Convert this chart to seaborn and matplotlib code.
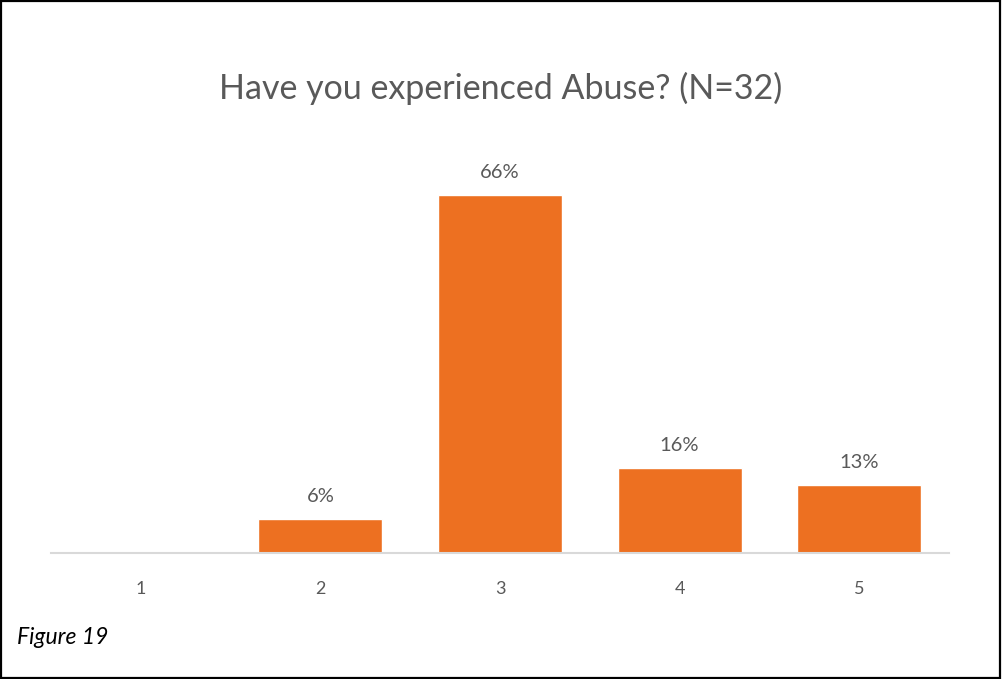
import matplotlib
matplotlib.use("Agg")
import matplotlib.pyplot as plt
import seaborn as sns
import pandas as pd
from matplotlib.patches import Rectangle

# Survey responses on a 1-5 scale, share of respondents (N=32)
categories = ["1", "2", "3", "4", "5"]
shares = [0.0, 0.0625, 0.65625, 0.15625, 0.125]
title = "Have you experienced Abuse? (N=32)"
caption = "Figure 19"

bar_color = "#ED7021"
text_gray = "#595959"

sns.set_theme(style="white")
plt.rcParams["font.family"] = ["Lato", "DejaVu Sans"]

df = pd.DataFrame({"category": categories, "share": shares})

fig = plt.figure(figsize=(10.02, 6.79), dpi=100)
ax = fig.add_axes([0.051, 0.1856, 0.896, 0.5625])

sns.barplot(data=df, x="category", y="share", color=bar_color,
            width=0.69, saturation=1, ax=ax)

ax.set_ylim(0, 0.70)
ax.set_xlim(-0.5, len(categories) - 0.5)
ax.set_xlabel("")
ax.set_ylabel("")
ax.set_yticks([])
for side in ("left", "right", "top"):
    ax.spines[side].set_visible(False)
ax.spines["bottom"].set_color("#D9D9D9")
ax.spines["bottom"].set_linewidth(1.5)
ax.tick_params(axis="x", length=0, pad=20, labelsize=13, labelcolor=text_gray)

# Percent labels above each non-empty bar (round half up, like a spreadsheet)
labels = [f"{int(v * 100 + 0.5)}%" if v > 0 else "" for v in shares]
ax.bar_label(ax.containers[0], labels=labels, padding=10,
             fontsize=14.5, color=text_gray)

fig.text(0.5, 0.870, title, ha="center", va="center",
         fontsize=24.5, color=text_gray)
fig.text(0.017, 0.061, caption, ha="left", va="center",
         fontsize=16.5, style="italic", color="black")

# Thin frame around the whole figure
fig.patches.append(Rectangle((0.001, 0.002), 0.997, 0.996,
                             transform=fig.transFigure, fill=False,
                             edgecolor="black", linewidth=1.6))

fig.savefig("out.png", dpi=100)
